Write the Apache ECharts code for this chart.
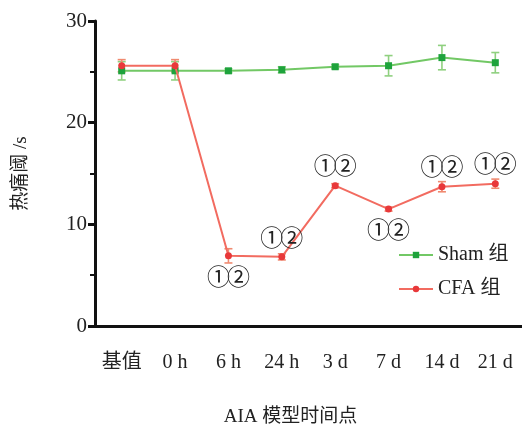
<!DOCTYPE html>
<html>
<head>
<meta charset="utf-8">
<script src="https://cdn.jsdelivr.net/npm/echarts@6/dist/echarts.min.js"></script>
<style>
  html, body { margin: 0; padding: 0; background: #fff; }
  #chart { width: 522px; height: 432px; }
</style>
</head>
<body>
<div id="chart"></div>
<script>
// Time points after CFA injection
const categories = ['基值', '0 h', '6 h', '24 h', '3 d', '7 d', '14 d', '21 d'];
// Thermal pain threshold (s), mean and SD
const shamMean = [25.1, 25.1, 25.1, 25.2, 25.5, 25.6, 26.4, 25.9];
const shamSD   = [0.9, 0.9, 0.2, 0.3, 0.2, 1.0, 1.2, 1.0];
const cfaMean  = [25.6, 25.6, 6.9, 6.8, 13.8, 11.5, 13.7, 14.0];
const cfaSD    = [0.6, 0.6, 0.7, 0.3, 0.2, 0.2, 0.5, 0.45];
// Significance marks on the CFA group ('' = none), and where they sit
const cfaMarks    = ['', '', '①②', '①②', '①②', '①②', '①②', '①②'];
const cfaMarkSide = ['', '', 'bottom', 'top', 'top', 'bottom', 'top', 'top'];
const yTicks = [0, 10, 20, 30];

const FONT = '"Liberation Serif", "Noto Sans CJK SC", serif';
const GREEN_LINE = '#72c865', GREEN_DOT = '#1ea33c', GREEN_ERR = '#8fd07f';
const RED_LINE = '#f26b60', RED_DOT = '#e8383a', RED_ERR = '#f08a70';

function errorBars(means, sds, color) {
  return {
    type: 'custom',
    silent: true,
    z: 1,
    data: means.map((m, i) => [i, m - sds[i], m + sds[i]]),
    renderItem: function (params, api) {
      const lo = api.coord([api.value(0), api.value(1)]);
      const hi = api.coord([api.value(0), api.value(2)]);
      const hw = 4;
      const style = { stroke: color, lineWidth: 1.6 };
      return {
        type: 'group',
        children: [
          { type: 'line', shape: { x1: lo[0], y1: lo[1], x2: hi[0], y2: hi[1] }, style },
          { type: 'line', shape: { x1: lo[0] - hw, y1: lo[1], x2: lo[0] + hw, y2: lo[1] }, style },
          { type: 'line', shape: { x1: hi[0] - hw, y1: hi[1], x2: hi[0] + hw, y2: hi[1] }, style }
        ]
      };
    }
  };
}

// each circled digit sits in its own narrow box so the pair touches
const markRich = {
  c: { fontSize: 23, width: 20, align: 'center', color: '#222', fontFamily: '"Noto Sans CJK SC", sans-serif' }
};

const cfaData = cfaMean.map((v, i) => {
  const item = { value: v };
  if (cfaMarks[i]) {
    item.label = {
      show: true,
      formatter: Array.from(cfaMarks[i]).map(ch => '{c|' + ch + '}').join(''),
      position: cfaMarkSide[i],
      distance: cfaMarkSide[i] === 'top' ? 5 : 5,
      rich: markRich
    };
  }
  return item;
});

const chart = echarts.init(document.getElementById('chart'));
chart.setOption({
  animation: false,
  backgroundColor: '#fff',
  grid: { left: 95, right: 0, top: 21, bottom: 105 },
  legend: {
    orient: 'vertical',
    left: 393,
    top: 240,
    itemWidth: 34,
    itemHeight: 8,
    itemGap: 14,
    data: ['Sham 组', 'CFA 组'],
    textStyle: { fontFamily: FONT, fontSize: 20, color: '#222' }
  },
  xAxis: {
    type: 'category',
    data: categories,
    boundaryGap: true,
    name: 'AIA 模型时间点',
    nameLocation: 'middle',
    nameGap: 82,
    nameTextStyle: { fontFamily: FONT, fontSize: 19, color: '#222', padding: [0, 36, 0, 0] },
    axisLine: { lineStyle: { color: '#111', width: 3 } },
    axisTick: { alignWithLabel: true, length: 6, lineStyle: { width: 3, color: '#111' } },
    axisLabel: { fontFamily: FONT, fontSize: 20, color: '#222', margin: 27 },
    splitLine: { show: false }
  },
  yAxis: {
    type: 'value',
    min: 0,
    max: 30,
    interval: 10,
    name: '热痛阈 /s',
    nameLocation: 'middle',
    nameGap: 64,
    nameRotate: 90,
    nameTextStyle: { fontFamily: FONT, fontSize: 19, color: '#222' },
    axisLine: { show: true, lineStyle: { color: '#111', width: 3 } },
    axisTick: { show: true, length: 7, lineStyle: { width: 3, color: '#111' } },
    minorTick: { show: true, splitNumber: 2, length: 5, lineStyle: { width: 2, color: '#111' } },
    axisLabel: {
      fontFamily: FONT, fontSize: 21, color: '#222', margin: 8,
      formatter: v => yTicks.includes(v) ? String(v) : ''
    },
    splitLine: { show: false }
  },
  series: [
    errorBars(shamMean, shamSD, GREEN_ERR),
    errorBars(cfaMean, cfaSD, RED_ERR),
    {
      name: 'Sham 组',
      type: 'line',
      data: shamMean,
      symbol: 'rect',
      symbolSize: 7,
      z: 3,
      lineStyle: { color: GREEN_LINE, width: 2 },
      itemStyle: { color: GREEN_DOT }
    },
    {
      name: 'CFA 组',
      type: 'line',
      data: cfaData,
      symbol: 'circle',
      symbolSize: 7,
      z: 4,
      lineStyle: { color: RED_LINE, width: 2 },
      itemStyle: { color: RED_DOT }
    }
  ]
});
</script>
</body>
</html>
